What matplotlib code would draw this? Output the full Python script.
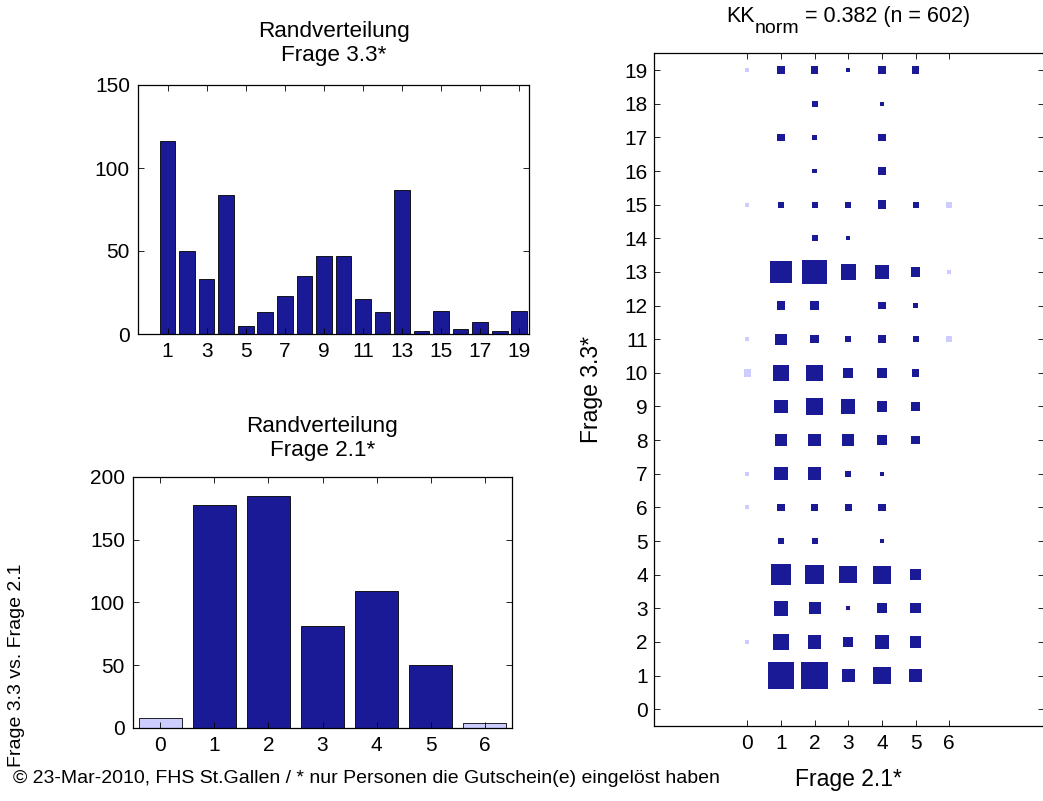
import matplotlib
matplotlib.use("Agg")
import matplotlib.pyplot as plt
import numpy as np
from matplotlib.patches import Rectangle

plt.rcParams["font.family"] = ["Liberation Sans", "DejaVu Sans"]
plt.rcParams["font.size"] = 15

# ── data ──────────────────────────────────────────────────────────────────────
f33_cats   = list(range(0, 20))
f33_counts = [0, 116, 50, 33, 84, 5, 13, 23, 35, 47, 47, 21, 13, 87, 2, 14, 3, 7, 2, 14]
f33_ticks  = list(range(1, 20, 2))

f21_cats   = list(range(0, 7))
f21_counts = [8, 178, 185, 81, 109, 50, 4]
f21_light  = [0, 6]          # categories drawn in the light colour

# crosstab: rows = Frage 3.3 (0..19), columns = Frage 2.1 (0..6)
crosstab = np.array([
    [0,  0,  0,  0,  0, 0, 0],   # 0
    [0, 40, 40, 10, 17, 9, 0],   # 1
    [1, 15, 10,  5, 12, 7, 0],   # 2
    [0, 12,  8,  1,  6, 6, 0],   # 3
    [0, 24, 19, 17, 18, 6, 0],   # 4
    [0,  2,  2,  0,  1, 0, 0],   # 5
    [1,  3,  3,  3,  3, 0, 0],   # 6
    [1, 10,  9,  2,  1, 0, 0],   # 7
    [0,  8,  9,  8,  6, 4, 0],   # 8
    [0, 10, 16, 11,  6, 4, 0],   # 9
    [3, 14, 15,  6,  6, 3, 0],   # 10
    [1,  7,  4,  2,  4, 2, 2],   # 11
    [0,  4,  4,  0,  3, 1, 0],   # 12
    [0, 25, 33, 13, 12, 5, 1],   # 13
    [0,  0,  2,  1,  0, 0, 0],   # 14
    [1,  2,  2,  2,  4, 2, 2],   # 15
    [0,  0,  1,  0,  3, 0, 0],   # 16
    [0,  3,  1,  0,  3, 0, 0],   # 17
    [0,  0,  2,  0,  1, 0, 0],   # 18
    [1,  3,  3,  1,  3, 3, 0],   # 19
])

KK_NORM = 0.382
N_TOTAL = 602

DARK  = "#1a1a96"
LIGHT = "#ccccff"
SIDE_MAX = 0.8

W, H = 1043, 801


def px_rect(left, top, right, bottom):
    return [left / W, (H - bottom) / H, (right - left) / W, (bottom - top) / H]


def style_axes(ax):
    ax.tick_params(direction="in", top=True, right=True, length=4, width=0.6)
    for sp in ax.spines.values():
        sp.set_linewidth(0.9)


fig = plt.figure(figsize=(W / 100, H / 100), dpi=100)

# ── top-left: Randverteilung Frage 3.3 ────────────────────────────────────────
ax1 = fig.add_axes(px_rect(138.3, 85, 529, 334))
c1 = [LIGHT if c == 0 else DARK for c in f33_cats]
ax1.bar(f33_cats, f33_counts, width=0.8, color=c1, edgecolor="black", linewidth=0.6)
ax1.set_xlim(-0.5, 19.5)
ax1.set_ylim(0, 150)
ax1.set_yticks([0, 50, 100, 150])
ax1.set_xticks(f33_ticks)
ax1.set_title("Randverteilung\nFrage 3.3*", pad=17, fontsize=16.2)
style_axes(ax1)
ax1.tick_params(axis="x", pad=6)
ax1.tick_params(axis="y", pad=6)

# ── bottom-left: Randverteilung Frage 2.1 ─────────────────────────────────────
ax2 = fig.add_axes(px_rect(133.3, 477, 511.7, 727.7))
c2 = [LIGHT if c in f21_light else DARK for c in f21_cats]
ax2.bar(f21_cats, f21_counts, width=0.8, color=c2, edgecolor="black", linewidth=0.6)
ax2.set_xlim(-0.5, 6.5)
ax2.set_ylim(0, 200)
ax2.set_yticks([0, 50, 100, 150, 200])
ax2.set_xticks(f21_cats)
ax2.set_title("Randverteilung\nFrage 2.1*", pad=15, fontsize=16.2)
style_axes(ax2)
ax2.tick_params(axis="x", pad=6)
ax2.tick_params(axis="y", pad=6)

# ── right: crosstab squares ───────────────────────────────────────────────────
ax3 = fig.add_axes(px_rect(653.5, 53.3, 1044, 726))
cmax = crosstab.max()
for row in range(crosstab.shape[0]):
    for col in range(crosstab.shape[1]):
        n = crosstab[row, col]
        if n <= 0:
            continue
        s = SIDE_MAX * np.sqrt(n / cmax)
        color = LIGHT if col in f21_light else DARK
        ax3.add_patch(Rectangle((col - s / 2, row - s / 2), s, s,
                                facecolor=color, edgecolor="none"))
ax3.set_xlim(-2.79, 8.82)
ax3.set_ylim(-0.5, 19.5)
ax3.set_xticks(f21_cats)
ax3.set_yticks(range(crosstab.shape[0]))
ax3.set_xlabel("Frage 2.1*", fontsize=16.5)
ax3.set_ylabel("Frage 3.3*", fontsize=16.5)
ax3.xaxis.set_label_coords(0.5, -0.062)
ax3.yaxis.set_label_coords(-0.13, 0.5)
style_axes(ax3)
ax3.tick_params(axis="x", pad=6)
ax3.tick_params(axis="y", pad=4)
ax3.spines["right"].set_visible(False)

# title "KK_norm = ..." built from pieces so the subscript keeps MATLAB's size
renderer = fig.canvas.get_renderer()
base_y = (H - 21.7) / H
sub_y = (H - 33) / H
parts = [("KK", base_y, 15.5), ("norm", sub_y, 14),
         (" = %.3f (n = %d)" % (KK_NORM, N_TOTAL), base_y, 15.5)]
texts = []
x = 0.0
for s, y, fs in parts:
    t = fig.text(x, y, s, fontsize=fs, ha="left", va="baseline")
    w = t.get_window_extent(renderer).width / W
    texts.append((t, x))
    x += w
x0 = (653.5 + 1043) / 2 / W - x / 2
for t, xo in texts:
    t.set_x(x0 + xo)

# ── side / footer text ────────────────────────────────────────────────────────
fig.text(17 / W, (H - 665) / H, "Frage 3.3 vs. Frage 2.1", rotation=90,
         ha="center", va="center", fontsize=14)
fig.text(13 / W, (H - 783) / H,
         "\u00a9 23-Mar-2010, FHS St.Gallen / * nur Personen die Gutschein(e) eingelöst haben",
         ha="left", va="baseline", fontsize=14)

fig.savefig("out.png", dpi=100)
